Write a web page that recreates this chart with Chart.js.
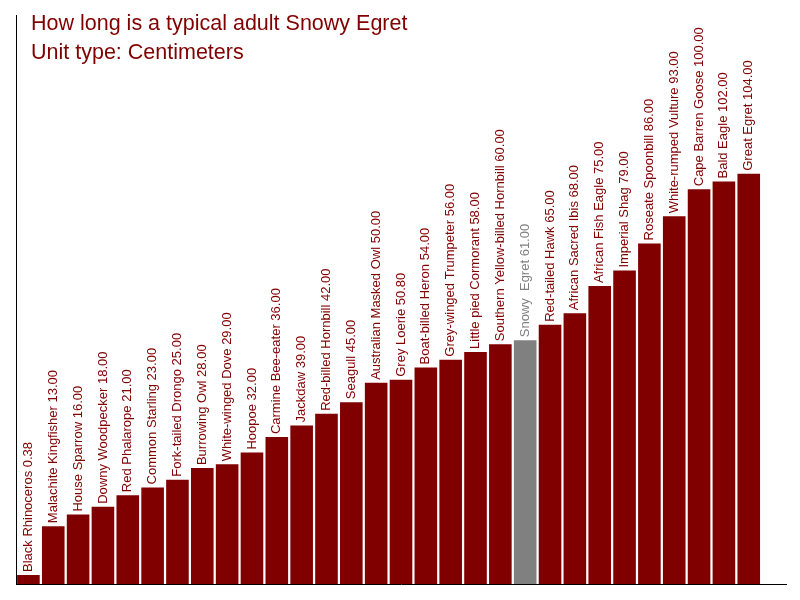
<!DOCTYPE html>
<html>
<head>
<meta charset="utf-8">
<script src="https://cdn.jsdelivr.net/npm/chart.js@4.4.1/dist/chart.umd.min.js"></script>
<style>
html,body{margin:0;padding:0;background:#fff;}
#wrap{width:800px;height:600px;}
</style>
</head>
<body>
<div id="wrap"><canvas id="c" width="800" height="600"></canvas></div>
<script>
const titleLines = ["How long is a typical adult Snowy Egret", "Unit type: Centimeters"];
const birds = ["Black Rhinoceros", "Malachite Kingfisher", "House Sparrow", "Downy Woodpecker", "Red Phalarope",
  "Common Starling", "Fork-tailed Drongo", "Burrowing Owl", "White-winged Dove", "Hoopoe",
  "Carmine Bee-eater", "Jackdaw", "Red-billed Hornbill", "Seagull", "Australian Masked Owl",
  "Grey Loerie", "Boat-billed Heron", "Grey-winged Trumpeter", "Little pied Cormorant", "Southern Yellow-billed Hornbill",
  "Snowy  Egret", "Red-tailed Hawk", "African Sacred Ibis", "African Fish Eagle", "Imperial Shag",
  "Roseate Spoonbill", "White-rumped Vulture", "Cape Barren Goose", "Bald Eagle", "Great Egret", ""];
const lengths = [0.38, 13, 16, 18, 21, 23, 25, 28, 29, 32, 36, 39, 42, 45, 50, 50.8, 54, 56, 58, 60,
  61, 65, 68, 75, 79, 86, 93, 100, 102, 104, null];
const highlightIndex = 20;
const yMin = -1.94;
const yMax = 145;

const RED = '#800000';
const GREY = '#808080';

const labelPlugin = {
  id: 'barLabels',
  afterDatasetsDraw(chart) {
    const ctx = chart.ctx;
    const meta = chart.getDatasetMeta(0);
    ctx.save();
    ctx.font = '13px "Liberation Sans", Arial, sans-serif';
    ctx.textAlign = 'left';
    ctx.textBaseline = 'middle';
    meta.data.forEach((bar, i) => {
      if (lengths[i] === null) return;
      const txt = birds[i] + ' ' + lengths[i].toFixed(2);
      ctx.save();
      ctx.translate(bar.x, bar.y - 3);
      ctx.rotate(-Math.PI / 2);
      ctx.fillStyle = i === highlightIndex ? GREY : RED;
      ctx.fillText(txt, 0, 0);
      ctx.restore();
    });
    ctx.fillStyle = RED;
    ctx.font = '21.5px "Liberation Sans", Arial, sans-serif';
    ctx.textBaseline = 'alphabetic';
    ctx.fillText(titleLines[0], 31, 30);
    ctx.fillText(titleLines[1], 31, 59);
    ctx.restore();
  }
};

new Chart(document.getElementById('c'), {
  type: 'bar',
  data: {
    labels: birds,
    datasets: [{
      data: lengths,
      base: yMin,
      backgroundColor: lengths.map((v, i) => i === highlightIndex ? GREY : RED),
      borderWidth: 0,
      barPercentage: 0.91,
      categoryPercentage: 1.0
    }]
  },
  options: {
    responsive: false,
    animation: false,
    devicePixelRatio: 1,
    layout: { padding: { left: 16, right: 14, top: 15, bottom: 16 } },
    plugins: { legend: { display: false }, title: { display: false }, tooltip: { enabled: false } },
    scales: {
      x: {
        ticks: { display: false },
        grid: { display: false, drawTicks: false },
        border: { display: true, color: '#000', width: 1 }
      },
      y: {
        min: yMin, max: yMax,
        ticks: { display: false },
        grid: { display: false, drawTicks: false },
        border: { display: true, color: '#000', width: 1 }
      }
    }
  },
  plugins: [labelPlugin]
});
</script>
</body>
</html>
